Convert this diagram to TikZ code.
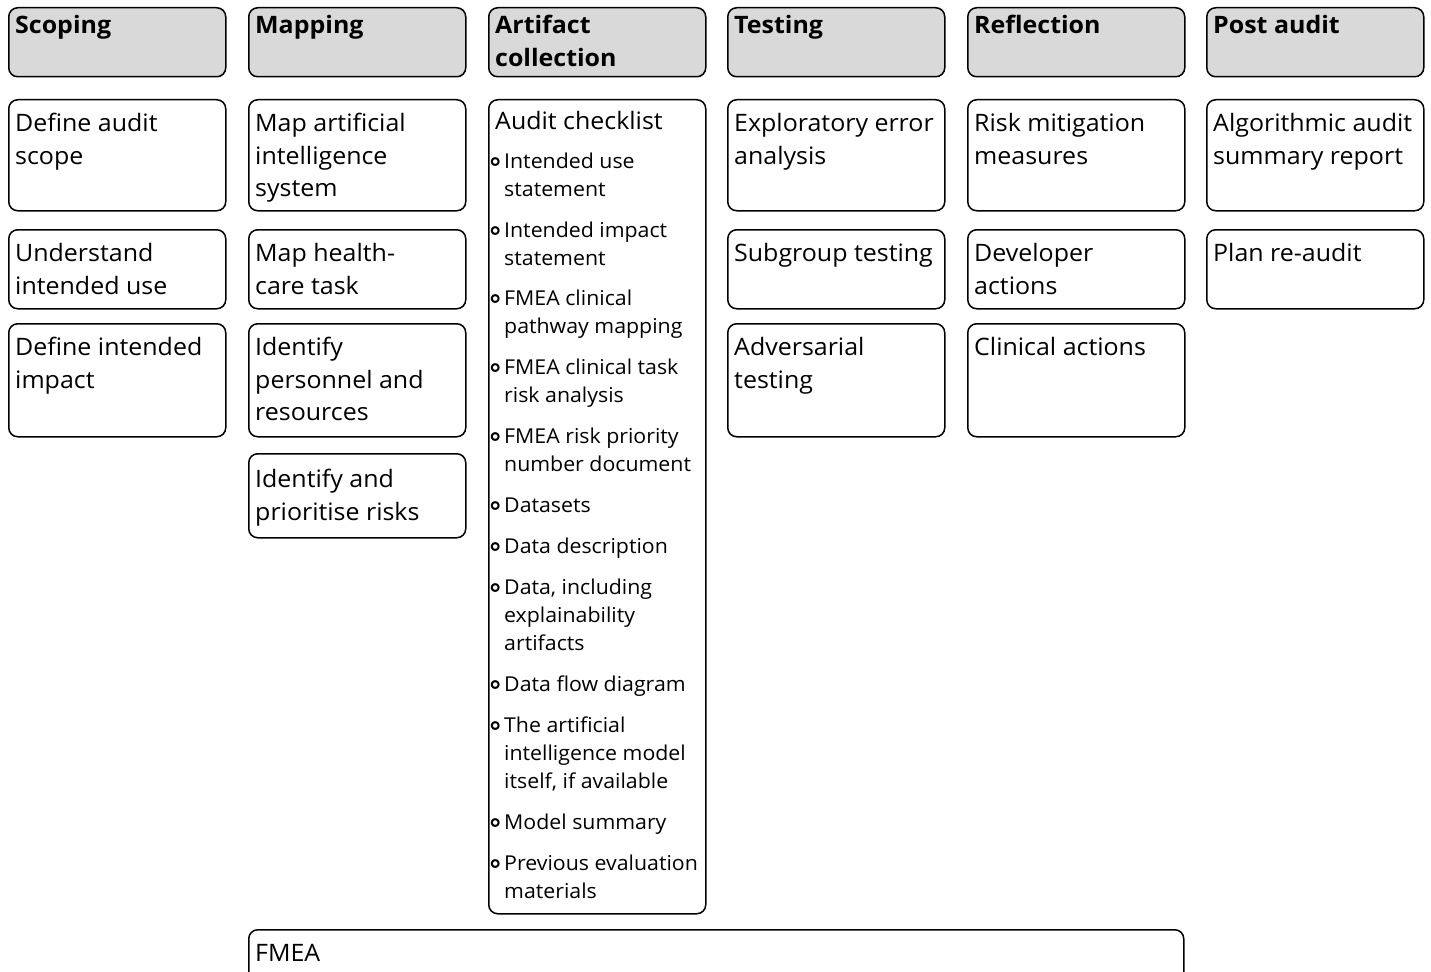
\documentclass[tikz,border=0pt]{standalone}
\usepackage{fontspec}
\setmainfont{Open Sans}[FakeStretch=1.04]
\newfontfamily\symfont{DejaVu Sans}
\definecolor{headgray}{HTML}{D9D9D9}
% invisible strut fixing the height of the first line of every label
\newcommand\tup{\rule{0pt}{20pt}}
% hanging open bullet for checklist entries
\newcommand\bul{\llap{\raisebox{-1.8pt}{\symfont\bfseries\fontsize{27}{27}\selectfont ∘}\hspace{0.5pt}}}
\begin{document}
\begin{tikzpicture}[x=1pt,y=-1pt,
  base/.style={draw=black, line width=1.5pt, rounded corners=9pt, anchor=north west,
               inner sep=0pt, minimum width=217pt},
  head/.style={base, fill=headgray, minimum height=69pt},
  card/.style={base, fill=white},
  txt/.style={anchor=north west, inner sep=0pt, align=left,
              font=\fontsize{24}{32.5}\selectfont},
  htxt/.style={txt, font=\bfseries\fontsize{24}{33}\selectfont},
  itxt/.style={txt, font=\fontsize{20.5}{28}\selectfont}]
\clip (0,0) rectangle (1431,971);

% ---- phase headers ----
\node[head] (h1) at (8,7) {};
\node[head] (h2) at (248,7) {};
\node[head] (h3) at (488,7) {};
\node[head] (h4) at (727,7) {};
\node[head] (h5) at (967,7) {};
\node[head] (h6) at (1206,7) {};
\node[htxt] (h1t) at (15,13) {\tup Scoping};
\node[htxt] (h2t) at (255,13) {\tup Mapping};
\node[htxt] (h3t) at (495,13) {\tup Artifact\\collection};
\node[htxt] (h4t) at (734,13) {\tup Testing};
\node[htxt] (h5t) at (974,13) {\tup Reflection};
\node[htxt] (h6t) at (1213,13) {\tup Post audit};

% ---- Scoping ----
\node[card, minimum height=111pt] (a1) at (8,99) {};
\node[card, minimum height=79pt]  (a2) at (8,229) {};
\node[card, minimum height=113pt] (a3) at (8,323) {};
\node[txt] (a1t) at (15,111.5) {\tup Define audit\\scope};
\node[txt] (a2t) at (15,241.5) {\tup Understand\\intended use};
\node[txt] (a3t) at (15,335.5) {\tup Define intended\\impact};

% ---- Mapping ----
\node[card, minimum height=111pt] (b1) at (248,99) {};
\node[card, minimum height=79pt]  (b2) at (248,229) {};
\node[card, minimum height=113pt] (b3) at (248,323) {};
\node[card, minimum height=84pt]  (b4) at (248,453) {};
\node[txt] (b1t) at (255,111.5) {\tup Map artificial\\intelligence\\system};
\node[txt] (b2t) at (255,241.5) {\tup Map health-\\care task};
\node[txt] (b3t) at (255,335.5) {\tup Identify\\personnel and\\resources};
\node[txt] (b4t) at (255,467.5) {\tup Identify and\\prioritise risks};

% ---- Artifact collection ----
\node[card, minimum height=814pt] (c1) at (488,99) {};
\node[txt] (c0t) at (495,109.5) {\tup Audit checklist};
\node[itxt] (c1t)  at (504,148) {\tup\bul Intended use\\statement};
\node[itxt] (c2t)  at (504,217) {\tup\bul Intended impact\\statement};
\node[itxt] (c3t)  at (504,285.5) {\tup\bul FMEA clinical\\pathway mapping};
\node[itxt] (c4t)  at (504,354) {\tup\bul FMEA clinical task\\risk analysis};
\node[itxt] (c5t)  at (504,423) {\tup\bul FMEA risk priority\\number document};
\node[itxt] (c6t)  at (504,492) {\tup\bul Datasets};
\node[itxt] (c7t)  at (504,533) {\tup\bul Data description};
\node[itxt] (c8t)  at (504,574) {\tup\bul Data, including\\explainability\\artifacts};
\node[itxt] (c9t)  at (504,671) {\tup\bul Data flow diagram};
\node[itxt] (c10t) at (504,712) {\tup\bul The artificial\\intelligence model\\itself, if available};
\node[itxt] (c11t) at (504,809) {\tup\bul Model summary};
\node[itxt] (c12t) at (504,850) {\tup\bul Previous evaluation\\materials};

% ---- Testing ----
\node[card, minimum height=111pt] (d1) at (727,99) {};
\node[card, minimum height=79pt]  (d2) at (727,229) {};
\node[card, minimum height=113pt] (d3) at (727,323) {};
\node[txt] (d1t) at (734,111.5) {\tup Exploratory error\\analysis};
\node[txt] (d2t) at (734,241.5) {\tup Subgroup testing};
\node[txt] (d3t) at (734,335.5) {\tup Adversarial\\testing};

% ---- Reflection ----
\node[card, minimum height=111pt] (e1) at (967,99) {};
\node[card, minimum height=79pt]  (e2) at (967,229) {};
\node[card, minimum height=113pt] (e3) at (967,323) {};
\node[txt] (e1t) at (974,111.5) {\tup Risk mitigation\\measures};
\node[txt] (e2t) at (974,241.5) {\tup Developer\\actions};
\node[txt] (e3t) at (974,335.5) {\tup Clinical actions};

% ---- Post audit ----
\node[card, minimum height=111pt] (f1) at (1206,99) {};
\node[card, minimum height=79pt]  (f2) at (1206,229) {};
\node[txt] (f1t) at (1213,111.5) {\tup Algorithmic audit\\summary report};
\node[txt] (f2t) at (1213,241.5) {\tup Plan re-audit};

% ---- FMEA band across mapping to reflection ----
\node[card, minimum width=935pt, minimum height=70pt] (g1) at (248,929) {};
\node[txt] (g1t) at (255,941.5) {\tup FMEA};
\end{tikzpicture}
\end{document}
